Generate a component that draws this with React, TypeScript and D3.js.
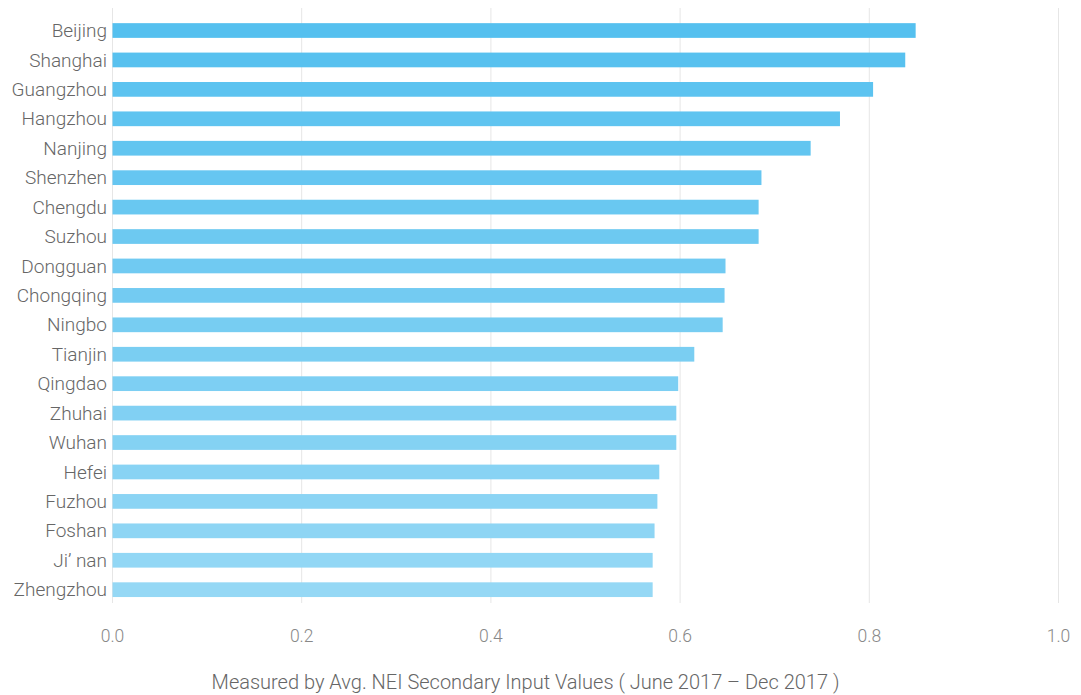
import React from "react";
import * as d3 from "d3";

const cities = ["Beijing","Shanghai","Guangzhou","Hangzhou","Nanjing","Shenzhen","Chengdu","Suzhou","Dongguan","Chongqing","Ningbo","Tianjin","Qingdao","Zhuhai","Wuhan","Hefei","Fuzhou","Foshan","Ji’ nan","Zhengzhou"];
const values = [0.849,0.838,0.804,0.769,0.738,0.686,0.683,0.683,0.648,0.647,0.645,0.615,0.598,0.596,0.596,0.578,0.576,0.573,0.571,0.571];
const ticks = [0,0.2,0.4,0.6,0.8,1.0];
const xTitle = "Measured by Avg. NEI Secondary Input Values ( June 2017 – Dec 2017 )";

const W = 1081, H = 695;
const left = 112.5, right = 1058.5, top = 15.8, bottom = 604.4;

export default function App() {
  const x = d3.scaleLinear().domain([0, 1]).range([left, right]);
  const y = d3.scaleBand<string>().domain(cities).range([top, bottom]).paddingInner(0.5).paddingOuter(0.25);
  const color = d3.interpolateRgb("#55c0ef", "#95d8f5");
  const font = "Roboto, 'Open Sans', sans-serif";
  return (
    <svg width={W} height={H} style={{ position: "absolute", left: 0, top: 0, background: "#fff" }}>
      {ticks.map((t) => (
        <line key={"g" + t} x1={x(t)} x2={x(t)} y1={8} y2={603} stroke="#e6e6e6" strokeWidth={1} />
      ))}
      {cities.map((c, i) => (
        <rect key={c} x={x(0)} y={y(c)!} width={x(values[i]) - x(0)} height={y.bandwidth()} fill={color(i / (cities.length - 1))} />
      ))}
      {cities.map((c) => (
        <text key={"l" + c} x={107} y={y(c)! + y.bandwidth() / 2} dy="0.35em" textAnchor="end" fontFamily={font} fontWeight={300} fontSize={19} fill="#666">{c}</text>
      ))}
      {ticks.map((t) => (
        <text key={"t" + t} x={x(t)} y={636} dy="0.35em" textAnchor="middle" fontFamily={font} fontWeight={300} fontSize={17.5} fill="#888">{t.toFixed(1)}</text>
      ))}
      <text x={525.5} y={682} dy="0.35em" textAnchor="middle" fontFamily={font} fontWeight={300} fontSize={20} fill="#666">{xTitle}</text>
    </svg>
  );
}
